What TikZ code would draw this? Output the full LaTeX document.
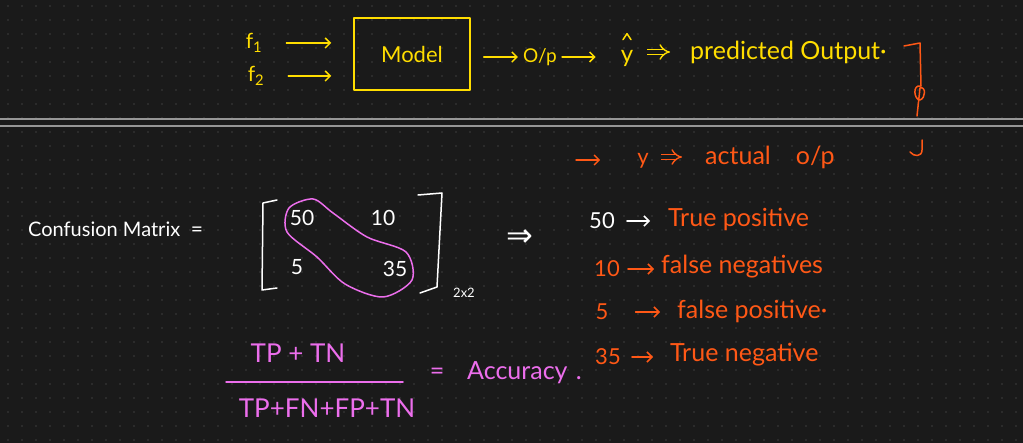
\documentclass[tikz,border=0pt]{standalone}
\usepackage{fontspec}
\setmainfont{Lato}
\newfontfamily\symfont{DejaVu Sans}
\usetikzlibrary{arrows.meta,positioning}
\definecolor{board}{RGB}{26,26,26}
\definecolor{dotgrey}{RGB}{62,62,62}
\definecolor{rulegrey}{RGB}{150,150,150}
\definecolor{penyellow}{RGB}{255,221,0}
\definecolor{penorange}{RGB}{255,88,22}
\definecolor{penpink}{RGB}{236,110,236}

\begin{document}
\begin{tikzpicture}[x=1pt,y=-1pt,
  every node/.style={font=\fontsize{25}{27}\selectfont, inner sep=0pt},
  ink/.style={line width=1.5pt, line cap=round, line join=round},
  arr/.style={ink,-{Straight Barb[length=5pt,width=10pt]}},
  imp/.style={line width=1.4pt, double=board, double distance=4pt, -{Implies}},
  small/.style={font=\fontsize{13}{14}\selectfont},
  mid/.style={font=\fontsize{21}{23}\selectfont}]
% board
\useasboundingbox (0,0) rectangle (1023,443);
\fill[board] (0,0) rectangle (1023,443);
\foreach \gx in {8,22,...,1023}
  \foreach \gy in {6,20,...,443}
    \fill[dotgrey] (\gx,\gy) circle (0.8pt);
\draw[rulegrey,line width=1.2pt] (0,119) -- (1023,119);
\draw[rulegrey,line width=1.2pt] (0,126) -- (1023,126);

% model row
\node[text=penyellow,mid] (f1) at (254,43) {f\textsubscript{1}};
\node[text=penyellow,mid] (f2) at (256,76) {f\textsubscript{2}};
\node[draw=penyellow,ink,minimum width=116pt,minimum height=72pt,
  text=penyellow,font=\fontsize{22}{24}\selectfont] (model) at (412,54) {Model};
\draw[arr,penyellow,shorten <=24pt,shorten >=22pt] (f1.east) -- (model.west |- f1.east);
\draw[arr,penyellow,shorten <=24pt,shorten >=22pt] (f2.east) -- (model.west |- f2.east);
\node[text=penyellow,font=\fontsize{19}{21}\selectfont] (op) at (540,57) {O/p};
\draw[arr,penyellow,shorten <=13pt,shorten >=5pt] (model.east |- op) -- (op.west);
\node[text=penyellow,font=\fontsize{24}{26}\selectfont] (yhat) at (627,58) {y};
\draw[ink,penyellow] ([shift={(-4,-10)}]yhat.north) -- ([shift={(0,-16)}]yhat.north) -- ([shift={(4,-10)}]yhat.north);
\draw[arr,penyellow,shorten <=5pt,shorten >=25pt] (op.east) -- (yhat.west |- op);
\node[text=penyellow,anchor=west] (pred) at (690,52) {predicted Output·};
\draw[imp,penyellow,shorten <=14pt,shorten >=20pt] (yhat.east |- pred) -- (pred.west);

% brace
\draw[ink,penorange] (904,46) -- (920,43) -- (921,86)
  .. controls (912,84) and (914,100) .. (920,100)
  .. controls (926,98) and (926,86) .. (920,88) -- (917,116);
\draw[ink,penorange] (922,140) -- (922,150) .. controls (922,157) and (914,157) .. (910,152);

% actual row
\coordinate (ystart) at (576,160);
\node[text=penorange,font=\fontsize{22}{24}\selectfont] (yact) at (643,161) {y};
\draw[arr,penorange,shorten >=37pt] (ystart) -- (yact.west |- ystart);
\node[text=penorange,anchor=west] (actual) at (705,157) {actual\quad o/p};
\draw[imp,penorange,shorten <=12pt,shorten >=23pt] (yact.east |- actual) -- (actual.west);

% confusion matrix
\node[text=white,anchor=west,font=\fontsize{20}{22}\selectfont] (cm) at (28,229) {Confusion Matrix};
\node[text=white,mid] (cmeq) at (197,232) {=};
\node[text=white,mid] (m11) at (302,218) {50};
\node[text=white,mid] (m12) at (383,218) {10};
\node[text=white,mid] (m21) at (297,267) {5};
\node[text=white,mid] (m22) at (395,269) {35};
\draw[ink,white] (277,200) -- (263,203) -- (262,290) -- (277,288);
\draw[ink,white] (418,195) -- (442,193) -- (437,287) -- (420,293);
\node[text=white,small] (dim) at (464,293) {2x2};
\draw[ink,penpink] plot[smooth cycle] coordinates {(313,199) (289,208) (287,232) (317,257)
  (345,284) (383,297) (412,280) (406,252) (367,237) (333,213)};
\node[text=white,font=\fontsize{32}{34}\selectfont] (then) at (520,238) {\symfont ⇒};

% meaning of the cells
\node[text=white,font=\fontsize{22}{24}\selectfont] (n50) at (602,221) {50};
\node[text=penorange,font=\fontsize{22}{24}\selectfont] (n10) at (607,269) {10};
\node[text=penorange,font=\fontsize{22}{24}\selectfont] (n5) at (602,312) {5};
\node[text=penorange,font=\fontsize{22}{24}\selectfont] (n35) at (608,357) {35};
\node[text=penorange,anchor=west] (tp) at (668,219) {True positive};
\node[text=penorange,anchor=west] (fn) at (661,267) {false negatives};
\node[text=penorange,anchor=west] (fp) at (677,311) {false positive·};
\node[text=penorange,anchor=west] (tn) at (670,355) {True negative};
\draw[arr,white,shorten <=12pt,shorten >=18pt] (n50.east) -- (tp.west |- n50.east);
\draw[arr,penorange,shorten <=8pt,shorten >=7pt] (n10.east) -- (fn.west |- n10.east);
\draw[arr,penorange,shorten <=27pt,shorten >=17pt] (n5.east) -- (fp.west |- n5.east);
\draw[arr,penorange,shorten <=11pt,shorten >=17pt] (n35.east) -- (tn.west |- n35.east);

% accuracy
\node[text=penpink,font=\fontsize{26}{28}\selectfont] (num) at (298,353) {TP + TN};
\draw[ink,penpink] (226,382) -- (403,382);
\node[text=penpink,font=\fontsize{26}{28}\selectfont] (den) at (327,408) {TP+FN+FP+TN};
\node[text=penpink] (acceq) at (437,374) {=};
\node[text=penpink,anchor=west] (acc) at (467,373) {Accuracy\,\,.};
\end{tikzpicture}
\end{document}
